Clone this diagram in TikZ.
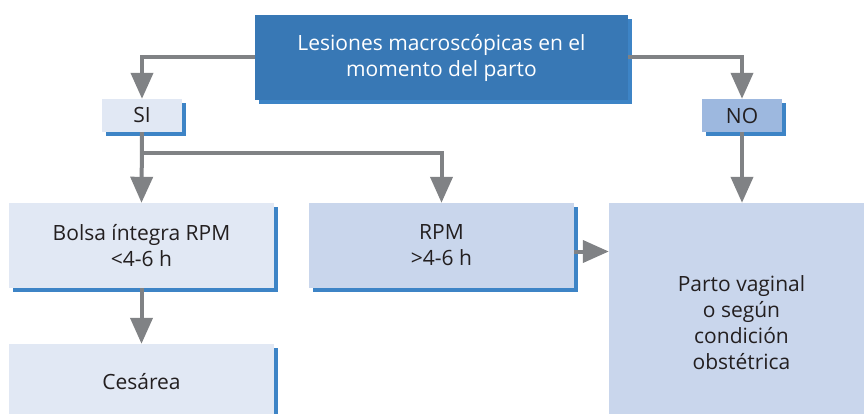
\documentclass[tikz,border=0pt]{standalone}
\usepackage{fontspec}
\setmainfont{Open Sans}
\usetikzlibrary{arrows.meta,shadows}

\definecolor{topblue}{HTML}{3878B5}
\definecolor{shadeblue}{HTML}{3D84C6}
\definecolor{palebox}{HTML}{E1E8F4}
\definecolor{midbox}{HTML}{C9D6EC}
\definecolor{nobox}{HTML}{9DB8DF}
\definecolor{arrowgray}{HTML}{808285}
\definecolor{inktext}{HTML}{231F20}

\tikzset{
  box/.style={rectangle, inner sep=0pt, align=center, text=inktext,
    font=\fontsize{21}{26}\selectfont,
    drop shadow={shadow xshift=4pt, shadow yshift=-4pt, fill=shadeblue, opacity=1}},
  flatbox/.style={rectangle, inner sep=0pt, align=center, text=inktext,
    font=\fontsize{21}{26}\selectfont},
  arr/.style={draw=arrowgray, line width=4pt, -{Triangle[width=22pt,length=26pt]}}
}

\begin{document}
\begin{tikzpicture}[x=1pt,y=-1pt]
\useasboundingbox[fill=white] (0,0) rectangle (864,414);
\begin{scope}
\clip (0,0) rectangle (864,414);
\node[box, fill=topblue, text=white, minimum width=373pt, minimum height=85pt] (lesiones) at (441.5,57.5) {Lesiones macroscópicas en el\\momento del parto};
\node[box, fill=palebox, minimum width=80pt, minimum height=33pt] (si) at (142,115.5) {SI};
\node[box, fill=nobox, minimum width=80pt, minimum height=33pt] (no) at (742,115.5) {NO};
\node[box, fill=palebox, minimum width=265pt, minimum height=85pt] (bolsa) at (141.5,245.5) {Bolsa íntegra RPM\\<4-6 h};
\node[box, fill=midbox, minimum width=265pt, minimum height=85pt] (rpm) at (441.5,245.5) {RPM\\>4-6 h};
\node[box, fill=palebox, minimum width=265pt, minimum height=76pt] (cesarea) at (141.5,382) {Cesárea};
\node[flatbox, fill=midbox, minimum width=265pt, minimum height=240pt] (parto) at (741.5,323) {Parto vaginal\\o según\\condición\\obstétrica};

\coordinate (split) at (142,153);
\draw[arr] (lesiones.west) -| (si.north);
\draw[arr] (lesiones.east) -| (no.north);
\draw[arr] (si.south) -- (bolsa.north);
\draw[draw=arrowgray, line width=4pt] (si.south) -- (split);
\draw[arr] (split) -| (rpm.north);
\draw[arr] (no.south) -- (no.south |- parto.north);
\draw[arr] (bolsa.south) -- (cesarea.north);
\draw[arr] ([yshift=-6pt]rpm.east) -- ([yshift=-6pt]rpm.east -| parto.west);
\end{scope}
\end{tikzpicture}
\end{document}
